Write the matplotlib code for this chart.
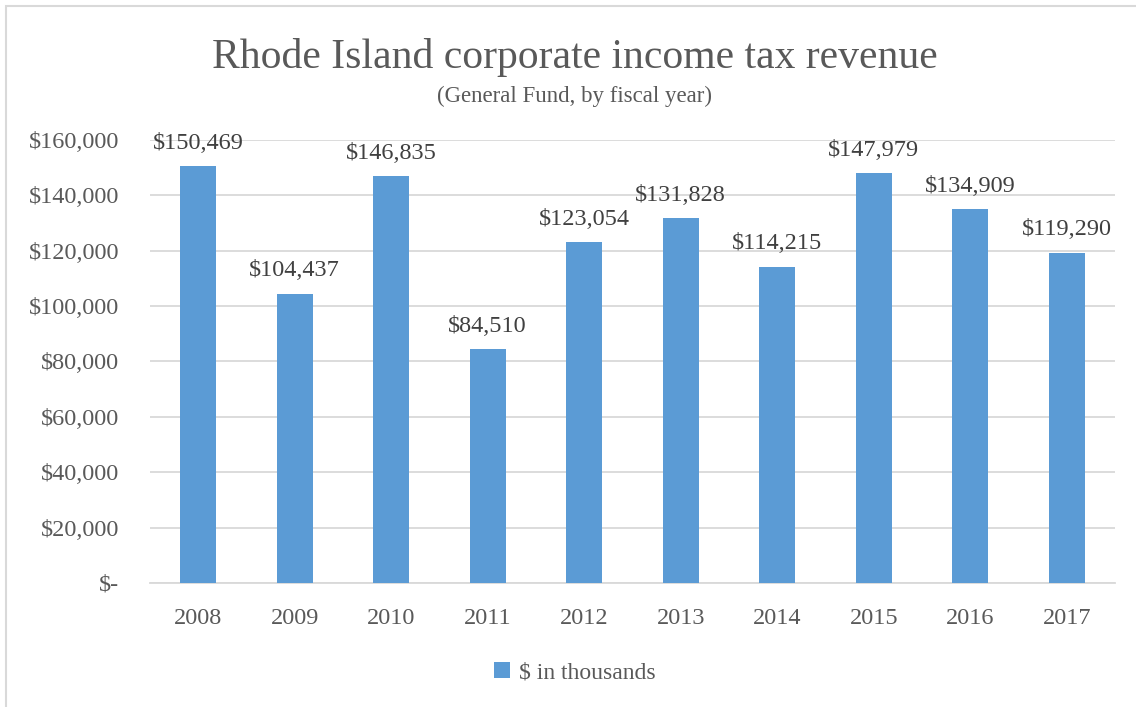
import matplotlib
matplotlib.use("Agg")
import matplotlib.pyplot as plt
from matplotlib.ticker import FuncFormatter
from matplotlib.patches import Rectangle

years = ["2008", "2009", "2010", "2011", "2012", "2013", "2014", "2015", "2016", "2017"]
revenue = [150469, 104437, 146835, 84510, 123054, 131828, 114215, 147979, 134909, 119290]
yticks = [0, 20000, 40000, 60000, 80000, 100000, 120000, 140000, 160000]

BAR = "#5b9bd5"
TXT = "#595959"
GRID = "#d9d9d9"

plt.rcParams["font.family"] = ["Liberation Serif", "DejaVu Serif"]

fig = plt.figure(figsize=(11.36, 7.07), dpi=100)
ax = fig.add_axes([0.132, 0.1754, 0.8495, 0.6266])

x = range(len(years))
bars = ax.bar(x, revenue, width=0.37, color=BAR, label="$ in thousands", zorder=3)
for xi, v in zip(x, revenue):
    ax.text(xi, v + 4500, "${:,}".format(v), ha="center", va="bottom",
            fontsize=17.5, color="#404040")

ax.set_xlim(-0.5, len(years) - 0.5)
ax.set_ylim(0, 160000)
ax.set_yticks(yticks)
ax.yaxis.set_major_formatter(FuncFormatter(lambda v, p: "$-" if v == 0 else "${:,.0f}".format(v)))
ax.set_xticks(list(x))
ax.set_xticklabels(years)
ax.tick_params(axis="both", length=0, labelsize=17.5, labelcolor=TXT)
ax.tick_params(axis="y", pad=22)
ax.tick_params(axis="x", pad=18)
ax.grid(axis="y", color=GRID, linewidth=1.3, zorder=0)
for s in ["top", "right", "left"]:
    ax.spines[s].set_visible(False)
ax.spines["bottom"].set_color(GRID)
ax.spines["bottom"].set_linewidth(1.3)

fig.text(0.506, 0.918, "Rhode Island corporate income tax revenue", ha="center", va="center",
         fontsize=30, color=TXT)
fig.text(0.506, 0.864, "(General Fund, by fiscal year)", ha="center", va="center",
         fontsize=16.5, color=TXT)

fig.legend(handles=[bars], labels=["$ in thousands"], loc="center", bbox_to_anchor=(0.506, 0.049),
           frameon=False, fontsize=17, labelcolor=TXT, handlelength=0.7, handleheight=0.7,
           handletextpad=0.4)

fig.patches.append(Rectangle((6 / 1136, -0.05), 1.2, 1 - 6 / 707 + 0.05, transform=fig.transFigure,
                             fill=False, edgecolor=GRID, linewidth=1.5))

fig.savefig("out.png", dpi=100)
